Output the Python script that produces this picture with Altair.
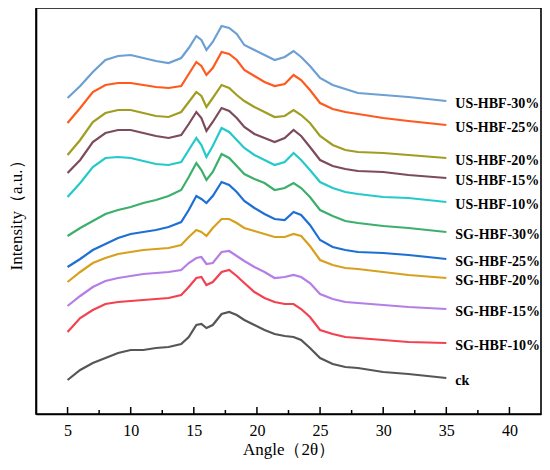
import altair as alt
import pandas as pd

angles = [5, 6, 7, 8, 9, 10, 11, 12, 13, 14, 14.6, 15.2, 15.6, 16.0, 16.5, 17.2, 17.8,
          18.4, 19.0, 19.8, 20.6, 21.4, 22.2, 22.9, 23.5, 24.2, 25, 26, 27, 28, 30, 32, 35]

names = ["US-HBF-30%", "US-HBF-25%", "US-HBF-20%", "US-HBF-15%", "US-HBF-10%",
         "SG-HBF-30%", "SG-HBF-25%", "SG-HBF-20%", "SG-HBF-15%", "SG-HBF-10%", "ck"]

colors = ["#6c9fd3", "#ff5a1e", "#a09d22", "#7c4c5c", "#25c9c9",
          "#3daf6c", "#1e6fd5", "#d7a11e", "#b47ee6", "#f2414f", "#565656"]

us30 = [316, 328, 342, 354, 358, 359, 356, 353, 351, 356, 366, 378, 374, 364, 372, 388, 386,
        380, 369, 364, 359, 354, 357, 363, 357, 348, 336, 329, 325, 321, 319, 317, 313]
us25 = [291, 306, 322, 329, 331, 331, 329, 327, 326, 328, 340, 352, 348, 339, 346, 362, 360,
        354, 344, 338, 332, 328, 330, 339, 334, 324, 311, 305, 302, 300, 296, 293, 289]
us20 = [259, 274, 292, 301, 304, 304, 301, 298, 297, 302, 312, 322, 318, 307, 316, 329, 326,
        319, 313, 307, 302, 297, 298, 304, 299, 291, 278, 269, 264, 262, 261, 259, 256]
us15 = [241, 254, 272, 281, 284, 284, 281, 278, 276, 279, 290, 302, 296, 283, 292, 306, 303,
        296, 287, 280, 276, 272, 276, 284, 278, 267, 254, 248, 245, 243, 242, 239, 236]
us10 = [217, 231, 247, 256, 257, 256, 253, 250, 249, 252, 264, 276, 269, 257, 268, 286, 282,
        274, 266, 259, 254, 249, 252, 261, 254, 244, 232, 226, 222, 220, 217, 216, 212]
sg30 = [178, 186, 193, 200, 204, 207, 211, 214, 218, 224, 237, 251, 244, 234, 242, 260, 256,
        248, 240, 235, 231, 224, 226, 231, 226, 217, 204, 198, 193, 191, 188, 186, 182]
sg25 = [147, 155, 164, 170, 176, 180, 182, 184, 187, 192, 204, 218, 215, 211, 218, 232, 229,
        222, 213, 206, 200, 195, 194, 202, 199, 189, 174, 167, 164, 162, 161, 159, 155]
sg20 = [132, 142, 151, 156, 160, 162, 164, 165, 166, 169, 177, 184, 182, 178, 186, 195, 195,
        191, 186, 183, 180, 177, 177, 180, 178, 168, 154, 149, 146, 145, 142, 139, 136]
sg15 = [108, 118, 127, 133, 136, 138, 140, 141, 142, 144, 151, 156, 157, 150, 151, 162, 163,
        158, 153, 147, 142, 136, 137, 139, 137, 131, 120, 115, 112, 111, 109, 107, 105]
sg10 = [82, 96, 104, 110, 112, 113, 114, 115, 116, 119, 127, 136, 137, 129, 132, 142, 144,
        138, 131, 122, 116, 112, 110, 110, 105, 97, 84, 80, 77, 76, 74, 72, 71]
ck = [34, 44, 51, 56, 61, 64, 64, 66, 67, 70, 77, 89, 90, 86, 89, 100, 102,
      99, 94, 89, 84, 80, 78, 77, 74, 66, 56, 50, 47, 46, 42, 40, 36]

series = [us30, us25, us20, us15, us10, sg30, sg25, sg20, sg15, sg10, ck]

major_ticks = [5, 10, 15, 20, 25, 30, 35, 40]
minor_ticks = [7.5, 12.5, 17.5, 22.5, 27.5, 32.5, 37.5]

rows = []
for name, vals in zip(names, series):
    for a, v in zip(angles, vals):
        rows.append({"angle": a, "intensity": v, "sample": name})
df = pd.DataFrame(rows)

lab = pd.DataFrame({"sample": names,
                    "angle": [angles[-1]] * len(names),
                    "intensity": [s[-1] for s in series]})

W, H = 505, 406
FONT = "Liberation Serif"

xs = alt.Scale(domain=[2.5, 42.5], nice=False, zero=False)
ys = alt.Scale(domain=[0, 406], nice=False, zero=False)
cs = alt.Scale(domain=names, range=colors)

lines = alt.Chart(df).mark_line(strokeWidth=2.2, interpolate="linear").encode(
    x=alt.X("angle:Q", scale=xs,
            axis=alt.Axis(title="Angle（2θ）", values=major_ticks, ticks=False, tickSize=0,
                          labelPadding=8, titlePadding=3, grid=False, format="d")),
    y=alt.Y("intensity:Q", scale=ys,
            axis=alt.Axis(title="Intensity（a.u.）", labels=False, ticks=False, grid=False,
                          titlePadding=11)),
    color=alt.Color("sample:N", scale=cs, legend=None),
    detail="sample:N",
)

texts = alt.Chart(lab).mark_text(align="left", baseline="middle", dx=9, dy=3,
                                 font=FONT, fontWeight="bold", fontSize=14,
                                 color="black").encode(
    x=alt.X("angle:Q", scale=xs),
    y=alt.Y("intensity:Q", scale=ys),
    text="sample:N",
)

maj = alt.Chart(pd.DataFrame({"t": major_ticks})).mark_rule(color="black", strokeWidth=1.5).encode(
    x=alt.X("t:Q", scale=xs), y=alt.value(H), y2=alt.value(H - 7))
mnr = alt.Chart(pd.DataFrame({"t": minor_ticks})).mark_rule(color="black", strokeWidth=1.5).encode(
    x=alt.X("t:Q", scale=xs), y=alt.value(H), y2=alt.value(H - 4))

chart = alt.layer(lines, texts, maj, mnr).properties(
    width=W, height=H,
    autosize=alt.AutoSizeParams(type="none"),
    padding={"left": 28, "top": 0, "right": 1, "bottom": 52},
).configure_view(stroke="black", strokeWidth=1.6).configure_axis(
    domainColor="black", domainWidth=1.6,
    labelFont=FONT, labelFontSize=16, labelColor="black",
    titleFont=FONT, titleFontSize=17, titleColor="black", titleFontWeight="normal",
)

chart.save("out.html", embed_options={"renderer": "svg", "actions": False})
